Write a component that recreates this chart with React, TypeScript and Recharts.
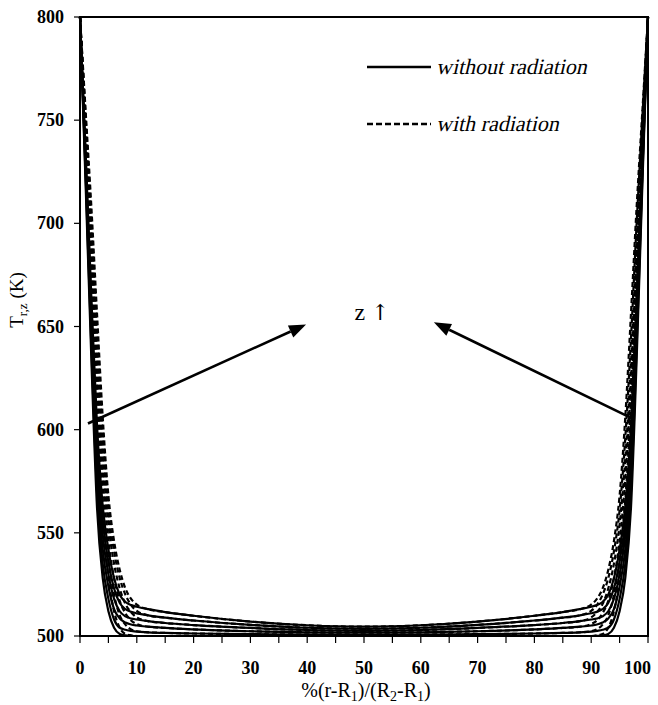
import React from "react";
import {
  LineChart,
  Line,
  XAxis,
  YAxis,
  ReferenceArea,
  ReferenceLine,
  ReferenceDot,
  Legend,
} from "recharts";

const FONT = "'Liberation Serif', 'Times New Roman', serif";

// radial position, % of gap (r-R1)/(R2-R1)
const xPos = [
  0, 1, 2, 3, 4, 5, 6, 7, 8, 9, 10, 12, 15, 20, 30, 40, 50, 60, 70, 80, 85, 88,
  90, 91, 92, 93, 94, 95, 96, 97, 98, 99, 100,
];

// temperature profiles without radiation, increasing z
const noRad0 = [800, 718, 634, 562, 528, 512, 504, 501, 500.3, 500.1, 500, 500, 500, 500, 500, 500, 500, 500, 500, 500, 500, 500, 500, 500.1, 500.3, 501, 504, 512, 528, 562, 634, 718, 800];
const noRad1 = [800, 722, 640, 570, 535, 518, 508, 504, 503, 502.5, 502.1, 501.8, 501.5, 501.2, 500.9, 500.7, 500.6, 500.7, 500.9, 501.2, 501.5, 501.8, 502.1, 502.5, 503, 504, 508, 518, 535, 570, 640, 722, 800];
const noRad2 = [800, 725, 646, 578, 542, 524, 513, 508.5, 506.5, 505.6, 505.1, 504.5, 503.9, 503.2, 502.3, 501.8, 501.6, 501.8, 502.3, 503.2, 503.9, 504.5, 505.1, 505.6, 506.5, 508.5, 513, 524, 542, 578, 646, 725, 800];
const noRad3 = [800, 728, 652, 586, 549, 530, 518, 512, 509.5, 508.5, 508, 507.2, 506.3, 505.3, 503.9, 502.9, 502.5, 502.9, 503.9, 505.3, 506.3, 507.2, 508, 508.5, 509.5, 512, 518, 530, 549, 586, 652, 728, 800];
const noRad4 = [800, 731, 658, 594, 556, 536, 523, 516, 513, 511.7, 511, 510, 508.9, 507.5, 505.4, 504, 503.5, 504, 505.4, 507.5, 508.9, 510, 511, 511.7, 513, 516, 523, 536, 556, 594, 658, 731, 800];
const noRad5 = [800, 734, 664, 602, 563, 542, 528, 520, 516.5, 515, 514.2, 513, 511.6, 509.8, 507, 505.2, 504.5, 505.2, 507, 509.8, 511.6, 513, 514.2, 515, 516.5, 520, 528, 542, 563, 602, 664, 734, 800];

// temperature profiles with radiation, increasing z
const rad0 = [800, 735, 666, 600, 556, 528, 512, 504, 501, 500.3, 500, 500, 500, 500, 500, 500, 500, 500, 500, 500, 500, 500, 500, 500.3, 501, 504, 512, 528, 556, 600, 666, 735, 800];
const rad1 = [800, 740, 676, 612, 566, 537, 520, 510, 505.5, 503.2, 502.3, 501.8, 501.5, 501.2, 500.9, 500.7, 500.6, 500.7, 500.9, 501.2, 501.5, 501.8, 502.3, 503.2, 505.5, 510, 520, 537, 566, 612, 676, 740, 800];
const rad2 = [800, 744, 684, 622, 576, 546, 528, 517, 511, 507.5, 505.8, 504.5, 503.9, 503.2, 502.3, 501.8, 501.6, 501.8, 502.3, 503.2, 503.9, 504.5, 505.8, 507.5, 511, 517, 528, 546, 576, 622, 684, 744, 800];
const rad3 = [800, 748, 692, 632, 586, 554, 535, 523, 515.5, 511.5, 509, 507.2, 506.3, 505.3, 503.9, 502.9, 502.5, 502.9, 503.9, 505.3, 506.3, 507.2, 509, 511.5, 515.5, 523, 535, 554, 586, 632, 692, 748, 800];
const rad4 = [800, 751, 700, 644, 596, 561, 541, 528, 520, 515, 512.2, 510, 508.9, 507.5, 505.4, 504, 503.5, 504, 505.4, 507.5, 508.9, 510, 512.2, 515, 520, 528, 541, 561, 596, 644, 700, 751, 800];
const rad5 = [800, 754, 708, 656, 606, 568, 546, 532, 523, 518, 515.2, 513, 511.6, 509.8, 507, 505.2, 504.5, 505.2, 507, 509.8, 511.6, 513, 515.2, 518, 523, 532, 546, 568, 606, 656, 708, 754, 800];

const xTicks = [0, 5, 10, 15, 20, 25, 30, 35, 40, 45, 50, 55, 60, 65, 70, 75, 80, 85, 90, 95, 100];
const yTicks = [500, 550, 600, 650, 700, 750, 800];

const noRadSeries = [noRad0, noRad1, noRad2, noRad3, noRad4, noRad5];
const radSeries = [rad0, rad1, rad2, rad3, rad4, rad5];

const data = xPos.map((x, i) => {
  const row: Record<string, number> = { x };
  noRadSeries.forEach((s, k) => (row[`s${k}`] = s[i]));
  radSeries.forEach((s, k) => (row[`d${k}`] = s[i]));
  return row;
});

const XTick = (props: any) => {
  const { x, y, payload } = props;
  if (payload.value % 10 !== 0) return null;
  const last = payload.value === 100;
  return (
    <text
      x={last ? x + 3 : x}
      y={y + 29}
      textAnchor={last ? "end" : "middle"}
      style={{ fontFamily: FONT }}
      fontWeight="bold"
      fontSize={18}
      fill="#000"
    >
      {payload.value}
    </text>
  );
};

const YTick = (props: any) => {
  const { x, y, payload } = props;
  return (
    <text x={x} y={y + 6} textAnchor="end" style={{ fontFamily: FONT }} fontWeight="bold" fontSize={18} fill="#000">
      {payload.value}
    </text>
  );
};

const XTitle = (props: any) => {
  const vb = props.viewBox || { x: 80, width: 568 };
  const cx = vb.x + vb.width / 2 + 2;
  return (
    <text x={cx} y={697} textAnchor="middle" style={{ fontFamily: FONT }} fontSize={20} fill="#000">
      %(r-R<tspan dy={4} fontSize={14}>1</tspan>
      <tspan dy={-4}>)/(R</tspan>
      <tspan dy={4} fontSize={14}>2</tspan>
      <tspan dy={-4}>-R</tspan>
      <tspan dy={4} fontSize={14}>1</tspan>
      <tspan dy={-4}>)</tspan>
    </text>
  );
};

const YTitle = () => (
  <text
    x={0}
    y={0}
    transform="translate(23 300) rotate(-90)"
    textAnchor="middle"
    style={{ fontFamily: FONT }}
    fontSize={19}
    fill="#000"
  >
    T<tspan dy={4} fontSize={13}>r,z</tspan>
    <tspan dy={-4}> (K)</tspan>
  </text>
);

const arrowShape = (props: any) => {
  const { x1, y1, x2, y2 } = props;
  const ang = Math.atan2(y2 - y1, x2 - x1);
  const len = 17;
  const half = 6.5;
  const bx = x2 - len * Math.cos(ang);
  const by = y2 - len * Math.sin(ang);
  const px = -Math.sin(ang) * half;
  const py = Math.cos(ang) * half;
  return (
    <g>
      <line x1={x1} y1={y1} x2={bx} y2={by} stroke="#000" strokeWidth={2.6} />
      <polygon points={`${x2},${y2} ${bx + px},${by + py} ${bx - px},${by - py}`} fill="#000" />
    </g>
  );
};

const zLabel = (props: any) => (
  <text x={props.cx} y={props.cy + 8} textAnchor="middle" style={{ fontFamily: FONT }} fontSize={24} fill="#000">
    z <tspan style={{ fontFamily: "'DejaVu Serif', 'DejaVu Sans'" }} fontSize={22}>{"\u2191\uFE0E"}</tspan>
  </text>
);

// serif text leaned like an italic face
const SlantText = ({ x, y, children }: { x: number; y: number; children: React.ReactNode }) => (
  <text
    x={0}
    y={0}
    transform={`translate(${x} ${y}) skewX(-13)`}
    style={{ fontFamily: FONT }}
    fontSize={22}
    fill="#000"
  >
    {children}
  </text>
);

const LegendBox = () => (
  <svg width={280} height={95}>
    <line x1={7} y1={17} x2={71} y2={17} stroke="#000" strokeWidth={2.4} />
    <SlantText x={76} y={24}>without radiation</SlantText>
    <line x1={7} y1={74} x2={71} y2={74} stroke="#000" strokeWidth={2.4} strokeDasharray="6 3" />
    <SlantText x={76} y={81}>with radiation</SlantText>
  </svg>
);

export default function App() {
  return (
    <div style={{ position: "absolute", left: 0, top: 0, background: "#fff" }}>
      <LineChart
        width={658}
        height={705}
        data={data}
        margin={{ top: 17, right: 10, bottom: 19, left: 0 }}
      >
        <XAxis
          dataKey="x"
          type="number"
          domain={[0, 100]}
          ticks={xTicks}
          interval={0}
          height={50}
          tickSize={7}
          tickMargin={2}
          tick={<XTick />}
          axisLine={{ stroke: "#000", strokeWidth: 2 }}
          tickLine={{ stroke: "#000", strokeWidth: 1.2 }}
          label={<XTitle />}
        />
        <YAxis
          type="number"
          domain={[500, 800]}
          ticks={yTicks}
          interval={0}
          width={80}
          tickSize={6}
          tickMargin={10}
          tick={<YTick />}
          axisLine={{ stroke: "#000", strokeWidth: 2 }}
          tickLine={{ stroke: "#000", strokeWidth: 1.2 }}
          label={<YTitle />}
        />
        <ReferenceArea x1={0} x2={100} y1={500} y2={800} fill="none" stroke="#000" strokeWidth={2} />
        {radSeries.map((_, k) => (
          <Line
            key={`d${k}`}
            dataKey={`d${k}`}
            type="monotone"
            stroke="#000"
            strokeWidth={2.2}
            strokeDasharray="5 3"
            dot={false}
            isAnimationActive={false}
          />
        ))}
        {noRadSeries.map((_, k) => (
          <Line
            key={`s${k}`}
            dataKey={`s${k}`}
            type="monotone"
            stroke="#000"
            strokeWidth={2.2}
            dot={false}
            isAnimationActive={false}
          />
        ))}
        <ReferenceLine
          segment={[
            { x: 1.4, y: 603 },
            { x: 39.8, y: 651 },
          ]}
          shape={arrowShape}
        />
        <ReferenceLine
          segment={[
            { x: 97.2, y: 605.5 },
            { x: 62.3, y: 652 },
          ]}
          shape={arrowShape}
        />
        <ReferenceDot x={51.4} y={657} r={0} shape={zLabel} />
        <Legend
          layout="horizontal"
          verticalAlign="middle"
          align="center"
          content={<LegendBox />}
          wrapperStyle={{ position: "absolute", top: 50, left: 360, width: 280, height: 95 }}
        />
      </LineChart>
    </div>
  );
}
